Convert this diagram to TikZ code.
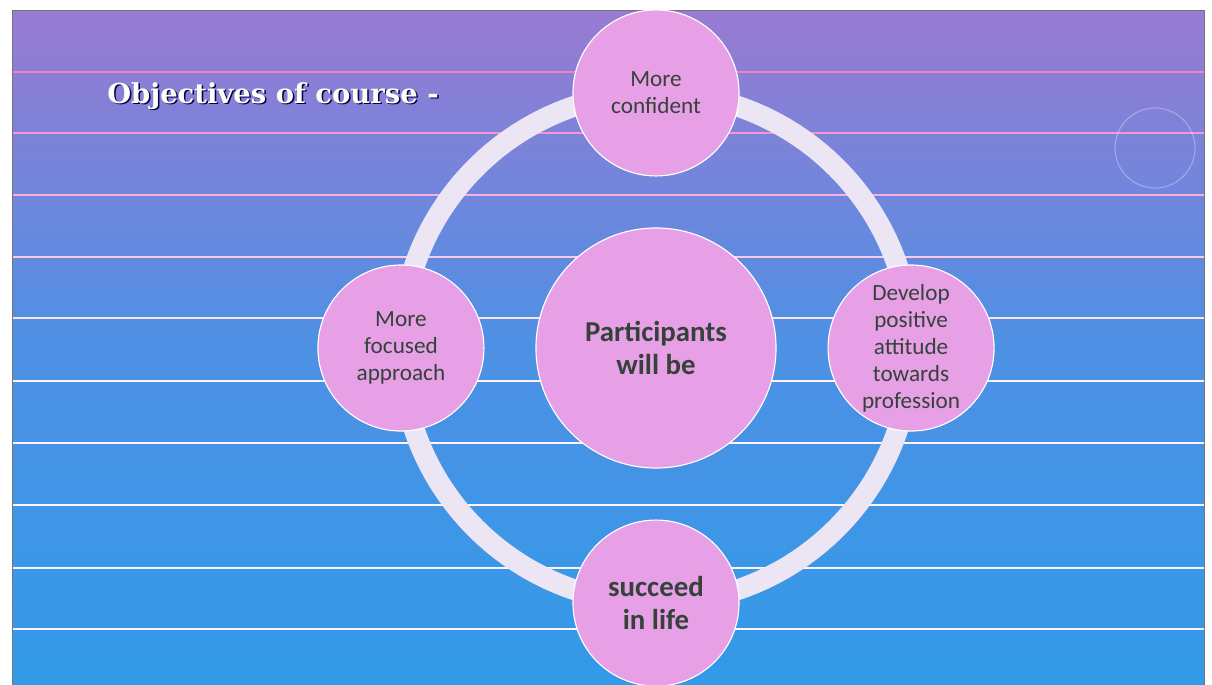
\documentclass[tikz,border=0pt]{standalone}
\usepackage{fontspec}
\setmainfont{Carlito}
\newfontfamily\titlefont{DejaVu Serif}
\usetikzlibrary{positioning}

\definecolor{slidepurple}{RGB}{154,122,210}
\definecolor{slidemid}{RGB}{78,144,228}
\definecolor{slideblue}{RGB}{50,154,232}
\definecolor{bubblefill}{RGB}{231,160,229}
\definecolor{ringcol}{RGB}{236,230,244}
\definecolor{inkcol}{RGB}{52,66,58}
\definecolor{stripepink}{RGB}{238,104,186}

\begin{document}
\begin{tikzpicture}[x=0.025cm,y=-0.025cm,node distance=6.375cm,
        bubble/.style={circle, fill=bubblefill, draw=white, line width=0.8pt, minimum size=4.15cm, inner sep=0pt, align=center, text=inkcol, font=\fontsize{16.5}{19.2}\selectfont},
        hubtext/.style={font=\fontsize{20.5}{23.5}\selectfont\bfseries},
        titletext/.style={anchor=base west, inner sep=0pt, font=\titlefont\fontsize{19.5}{23}\selectfont\bfseries},
        stripe/.style={line width=2pt},
        ringline/.style={draw=ringcol, line width=0.52cm}]
        \useasboundingbox (0,0) rectangle (1212,685);
        \fill[white] (0,0) rectangle (1212,685);
        \shade[top color=slidepurple, bottom color=slidemid] (12,10) rectangle (1204,340);
        \shade[top color=slidemid, bottom color=slideblue] (12,340) rectangle (1204,685);
        \foreach \yy [count=\i] in {72,133,195,257,318,381,443,505,568,629} {
            \pgfmathtruncatemacro\mix{max(8,100-\i*16)}
            \draw[stripe, stripepink!\mix!white] (12,\yy) -- (1204,\yy);
        }
        \draw[white, opacity=0.3, line width=0.8pt] (1155,148) circle (1cm);
        \draw[black!55, line width=0.6pt] (12,685) -- (12,10) -- (1204,10) -- (1204,685);
        \node (titleshadow) [titletext, text=black!70!blue] at (108.5,104.5) {Objectives of course -};
        \node (title) [titletext, text=white!96!yellow] at (107,103) {Objectives of course -};
        \coordinate (hubpt) at (656,348);
        \draw[ringline] (hubpt) circle (6.375cm);
        \node (part) [bubble, hubtext, minimum size=6cm] at (hubpt) {Participants\\will be};
        \node (conf) [bubble, above of=part] {More\\confident};
        \node (focus) [bubble, left of=part] {More\\focused\\approach};
        \node (attit) [bubble, right of=part] {Develop\\positive\\attitude\\towards\\profession};
        \node (life) [bubble, hubtext, below of=part] {succeed\\in life};
    \end{tikzpicture}
\end{document}
